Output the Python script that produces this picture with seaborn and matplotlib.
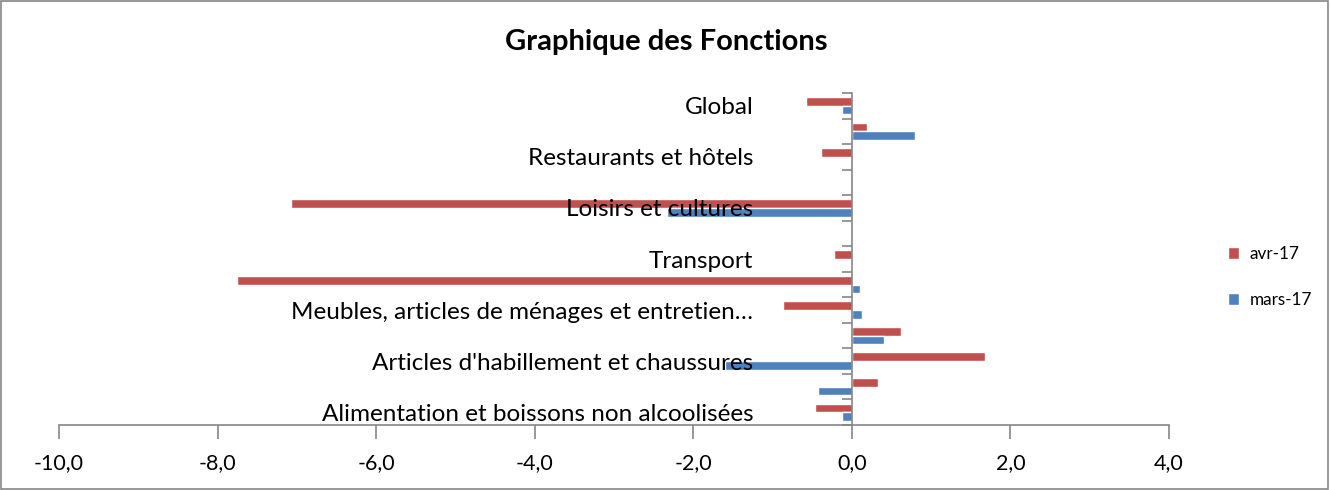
import matplotlib
matplotlib.use("Agg")
import matplotlib.pyplot as plt
import seaborn as sns
import pandas as pd
from matplotlib.patches import Rectangle
from matplotlib.ticker import FixedLocator, FuncFormatter

categories = [
    "Global",
    "Biens et services divers",
    "Restaurants et hôtels",
    "Enseignement",
    "Loisirs et cultures",
    "Communication",
    "Transport",
    "Santé",
    "Meubles, articles de ménages et entretien…",
    "Logement, eau, électricité et gaz",
    "Articles d'habillement et chaussures",
    "Boissons alcoolisées et tabac",
    "Alimentation et boissons non alcoolisées",
]
avr_17 = [-0.58, 0.19, -0.39, 0.0, -7.07, 0.0, -0.22, -7.75, -0.87, 0.62, 1.68, 0.33, -0.47]
mars_17 = [-0.12, 0.80, 0.0, 0.0, -2.33, 0.0, 0.0, 0.10, 0.13, 0.41, -1.60, -0.43, -0.13]
series_names = ["avr-17", "mars-17"]
x_ticks = [-10, -8, -6, -4, -2, 0, 2, 4]

df = pd.DataFrame({
    "cat": categories * 2,
    "val": avr_17 + mars_17,
    "serie": [series_names[0]] * len(categories) + [series_names[1]] * len(categories),
})

sns.set_theme(style="white")
plt.rcParams["font.family"] = ["Lato", "DejaVu Sans"]
plt.rcParams["text.color"] = "black"

fig = plt.figure(figsize=(13.31, 4.9), dpi=100)
ax = fig.add_axes([59 / 1331, 1 - 425 / 490, (1169 - 59) / 1331, (425 - 93) / 490])

sns.barplot(data=df, y="cat", x="val", hue="serie", order=categories,
            hue_order=series_names, palette=["#C0504D", "#4F81BD"],
            orient="h", width=0.68, ax=ax, legend=True, saturation=1)

ax.set_axisbelow(False)
ax.set_xlim(-10, 4)
ax.set_ylim(len(categories) - 0.5, -0.5)
ax.set_xlabel("")
ax.set_ylabel("")

for s in ["top", "right"]:
    ax.spines[s].set_visible(False)
ax.spines["left"].set_position(("data", 0))
for s in ["left", "bottom"]:
    ax.spines[s].set_color("#868686")
    ax.spines[s].set_linewidth(1.2)

ax.xaxis.set_major_locator(FixedLocator(x_ticks))
ax.xaxis.set_major_formatter(FuncFormatter(lambda v, p: f"{v:.1f}".replace(".", ",")))
ax.tick_params(axis="x", which="major", direction="out", length=10, width=1.2,
               color="#868686", labelsize=15.5, pad=10, bottom=True)

shown = [c if i % 2 == 0 else "" for i, c in enumerate(categories)]
ax.set_yticks(range(len(categories)))
ax.set_yticklabels(shown)
ax.yaxis.set_minor_locator(FixedLocator([i - 0.5 for i in range(len(categories) + 1)]))
ax.tick_params(axis="y", which="major", length=0, labelsize=17.5, pad=71, left=True)
ax.tick_params(axis="y", which="minor", direction="out", length=7, width=1.2,
               color="#868686", left=True)
for lab in ax.get_yticklabels() + ax.get_xticklabels():
    lab.set_color("black")

ax.get_legend().remove()
handles, labels = ax.get_legend_handles_labels()
leg = fig.legend(handles, labels, loc="center left", bbox_to_anchor=(1213 / 1331, 1 - 277 / 490),
                 frameon=False, fontsize=12.3, handlelength=0.65, handleheight=0.65,
                 handletextpad=0.6, labelspacing=1.75)
for t in leg.get_texts():
    t.set_color("black")

fig.text(666 / 1331, 1 - 42 / 490, "Graphique des Fonctions", ha="center", va="center",
         fontsize=21, fontweight="bold", color="black")

fig.patches.append(Rectangle((0.001, 0.002), 0.997, 0.996, transform=fig.transFigure,
                             fill=False, edgecolor="#868686", linewidth=1.2))

fig.savefig("out.png", dpi=100)
